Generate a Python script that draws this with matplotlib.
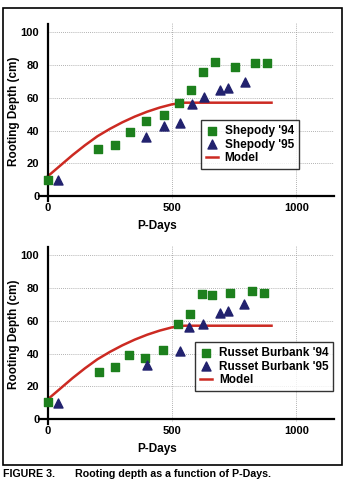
import matplotlib
matplotlib.use("Agg")
import matplotlib.pyplot as plt
from matplotlib.patches import Rectangle

plt.rcParams['font.family'] = ['Liberation Sans', 'DejaVu Sans']

# Shepody data
shep94_x = [0, 204, 272, 330, 397, 466, 527, 575, 626, 672, 752, 834, 883]
shep94_y = [10, 28.5, 31, 39, 46, 49.5, 57, 64.5, 75.5, 82, 79, 81.5, 81]
shep95_x = [43, 394, 468, 532, 579, 630, 693, 724, 792]
shep95_y = [10, 36, 43, 44.5, 56, 60.5, 65, 66, 69.5]

# Russet Burbank data
rb94_x = [0, 206, 269, 328, 391, 462, 525, 574, 622, 662, 733, 820, 871]
rb94_y = [10.5, 28.5, 31.5, 39, 37.5, 42, 58, 64, 76.5, 75.5, 77, 78, 77]
rb95_x = [43, 398, 532, 568, 626, 694, 724, 791]
rb95_y = [10, 33, 41.5, 56, 58, 65, 66, 70]

# model curve (same in both panels)
model_x = [0, 50, 100, 150, 200, 250, 300, 350, 400, 450, 500, 550, 900]
model_y = [12, 18.5, 25, 31, 36.5, 41, 45, 48.5, 51.5, 54, 56, 57, 57]

green = '#1d801d'
navy = '#22226e'
red = '#cc2a22'

fig = plt.figure(figsize=(3.5, 4.92), dpi=100)

# outer frame and caption
fig.patches.append(Rectangle((3 / 350, 1 - 465 / 492), 339 / 350, 457 / 492,
                             transform=fig.transFigure, fill=False,
                             edgecolor='black', linewidth=1.2))
fig.text(3 / 350, 1 - 474 / 492, 'FIGURE 3.', fontsize=7.7, fontweight='bold',
         va='center', ha='left')
fig.text(75 / 350, 1 - 474 / 492, 'Rooting depth as a function of P-Days.',
         fontsize=7.7, fontweight='bold', va='center', ha='left')


def panel(rect, x94, y94, x95, y95, lab94, lab95, leg_anchor):
    ax = fig.add_axes(rect)
    ax.plot(model_x, model_y, color=red, linewidth=1.8, zorder=2, label='Model')
    ax.scatter(x94, y94, marker='s', s=38, color=green, zorder=3, label=lab94)
    ax.scatter(x95, y95, marker='^', s=42, color=navy, zorder=3, label=lab95)
    ax.set_xlim(-35, 1150)
    ax.set_ylim(-2, 106)
    for s in ['top', 'right']:
        ax.spines[s].set_visible(False)
    ax.spines['left'].set_position(('data', 0))
    ax.spines['bottom'].set_position(('data', 0))
    ax.spines['left'].set_bounds(-3, 105)
    ax.spines['left'].set_linewidth(1.6)
    ax.spines['bottom'].set_linewidth(1.6)
    ax.set_xticks([0, 500, 1000])
    ax.set_yticks([0, 20, 40, 60, 80, 100])
    ax.tick_params(axis='y', length=0, pad=6, labelsize=8)
    ax.tick_params(axis='x', length=0, pad=5, labelsize=8)
    for lbl in ax.get_xticklabels() + ax.get_yticklabels():
        lbl.set_fontweight('bold')
    for yv in [20, 40, 60, 80, 100]:
        ax.plot([0, 1150], [yv, yv], color='#999999', linestyle=(0, (1, 1.5)),
                linewidth=0.6, zorder=1)
    for xv in [500, 1000]:
        ax.plot([xv, xv], [-2, 106], color='#999999', linestyle=(0, (1, 1.5)),
                linewidth=0.6, zorder=1)
    ax.set_xlabel('P-Days', fontsize=8.5, fontweight='bold')
    ax.xaxis.set_label_coords(0.4, -0.12)
    ax.set_ylabel('Rooting Depth (cm)', fontsize=8.5, fontweight='bold')
    ax.yaxis.set_label_coords(-0.066, 0.5)
    h, l = ax.get_legend_handles_labels()
    leg = ax.legend([h[1], h[2], h[0]], [l[1], l[2], l[0]], loc='upper left',
                    bbox_to_anchor=leg_anchor, frameon=True, fancybox=False,
                    edgecolor='black', handlelength=1.0,
                    handletextpad=0.6, labelspacing=0.15, borderpad=0.4,
                    borderaxespad=0, prop={'weight': 'bold', 'size': 8.5})
    leg.get_frame().set_linewidth(1.0)
    return ax


panel([0.1114, 0.595, 0.842, 0.3593], shep94_x, shep94_y, shep95_x, shep95_y,
      "Shepody '94", "Shepody '95", (0.55, 0.448))
panel([0.1114, 0.1417, 0.842, 0.3593], rb94_x, rb94_y, rb95_x, rb95_y,
      "Russet Burbank '94", "Russet Burbank '95", (0.53, 0.454))

fig.savefig('out.png', dpi=100)
